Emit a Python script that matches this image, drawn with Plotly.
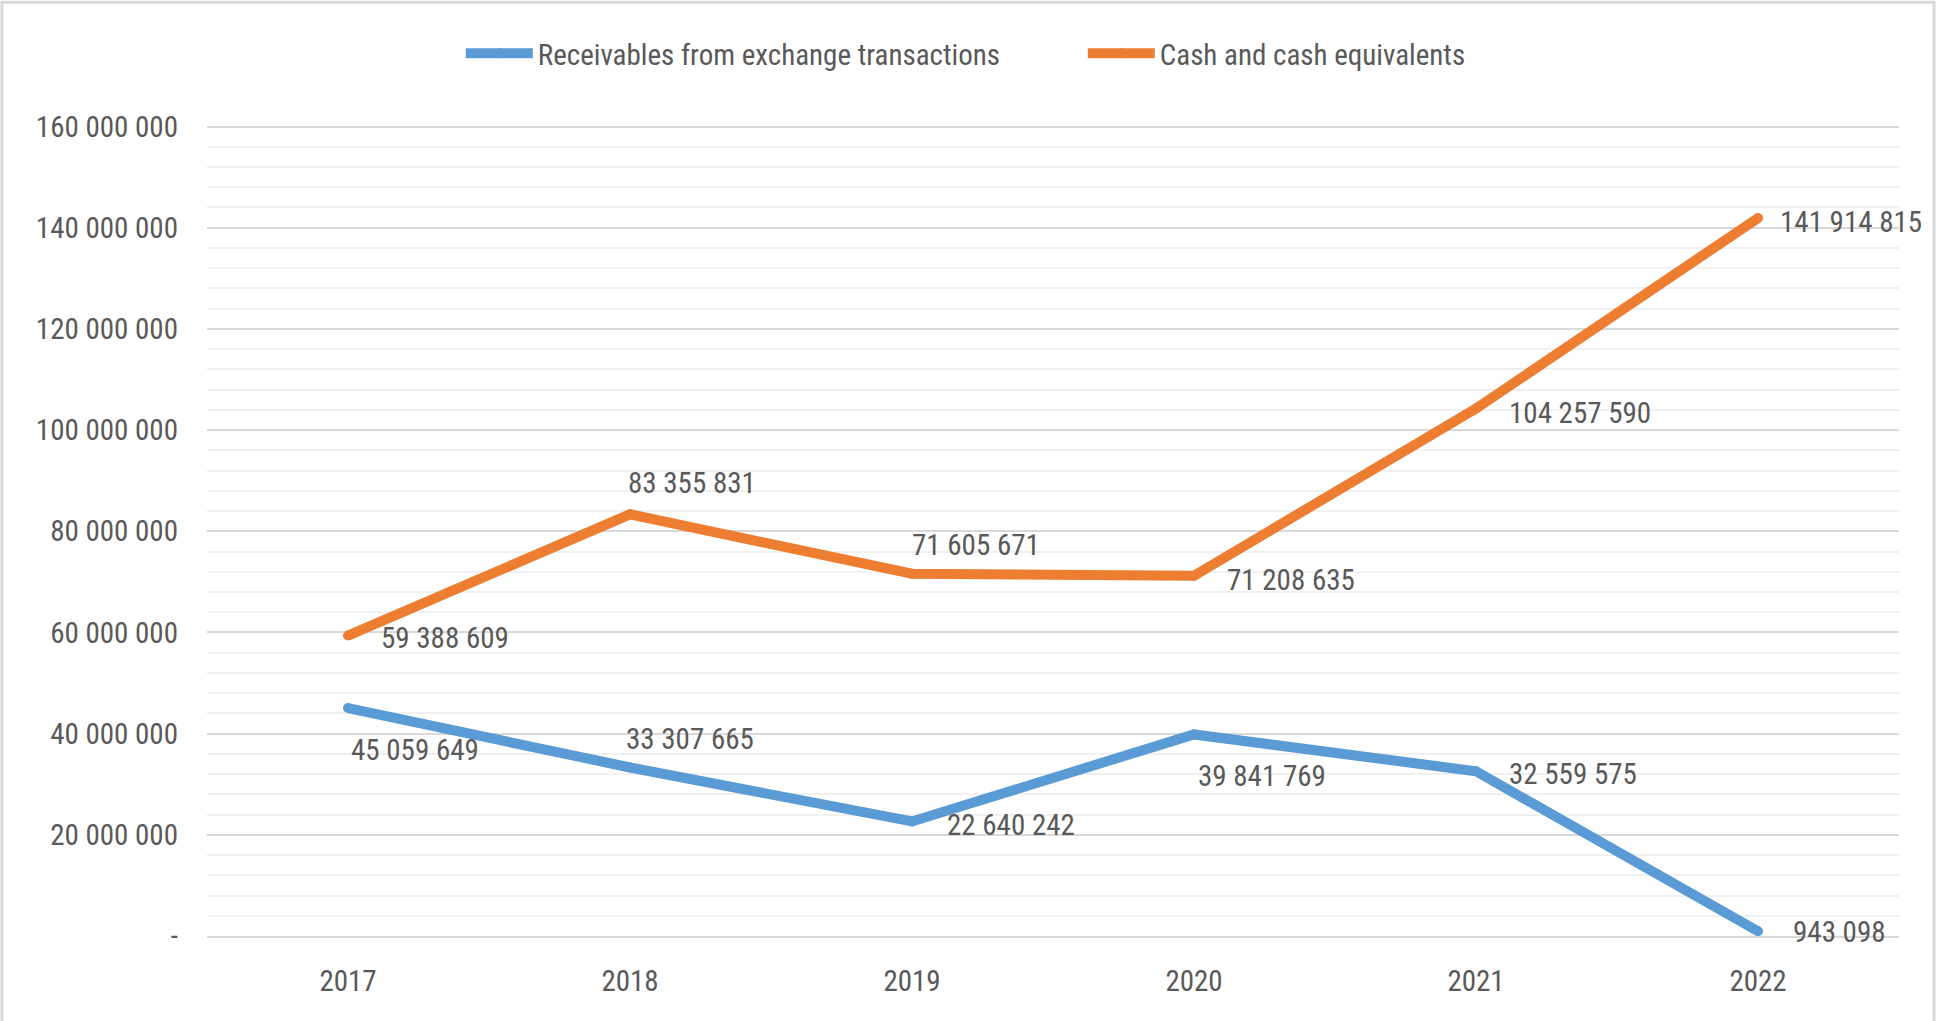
import plotly.graph_objects as go

years = ["2017", "2018", "2019", "2020", "2021", "2022"]
receivables = [45059649, 33307665, 22640242, 39841769, 32559575, 943098]
cash = [59388609, 83355831, 71605671, 71208635, 104257590, 141914815]

y_ticks = [0, 20e6, 40e6, 60e6, 80e6, 100e6, 120e6, 140e6, 160e6]
y_labels = ["-", "20 000 000", "40 000 000", "60 000 000", "80 000 000",
            "100 000 000", "120 000 000", "140 000 000", "160 000 000"]

# data label offsets in px (dx right, dy up), copied from the original layout
rec_dx = [1, -6, 33, 2, 31, 33]
rec_dy = [-42, 28, -4, -42, -3, -1]
cash_dx = [31, -4, -2, 31, 31, 20]
cash_dy = [-2, 31, 29, -4, -4, -4]

FONT = "Liberation Sans Narrow, Arial Narrow, Roboto Condensed, sans-serif"
GREY = "#595959"
FS = 29


def fmt(v):
    return f"{v:,}".replace(",", " ")


fig = go.Figure()
annotations = []
for name, vals, color, dxs, dys in [
    ("Receivables from exchange transactions", receivables, "#5B9BD5", rec_dx, rec_dy),
    ("Cash and cash equivalents", cash, "#ED7D31", cash_dx, cash_dy),
]:
    fig.add_trace(
        go.Scatter(
            x=years,
            y=vals,
            name=name,
            mode="lines+markers",
            line=dict(color=color, width=10),
            marker=dict(color=color, size=10),
            cliponaxis=False,
            hoverinfo="skip",
        )
    )
    # category axis: annotations use the category index
    for i, (v, dx, dy) in enumerate(zip(vals, dxs, dys)):
        annotations.append(dict(
            x=i, y=v, text=fmt(v), showarrow=False,
            xanchor="left", yanchor="middle", xshift=dx, yshift=dy,
            font=dict(family=FONT, size=FS, color=GREY),
        ))

fig.update_layout(
    width=1936,
    height=1021,
    paper_bgcolor="white",
    plot_bgcolor="white",
    margin=dict(l=207, r=37, t=124, b=85),
    font=dict(family=FONT, size=FS, color=GREY),
    showlegend=True,
    legend=dict(
        orientation="h",
        x=0.15,
        xanchor="left",
        y=1.087,
        yanchor="middle",
        font=dict(size=FS, color=GREY),
        itemwidth=67,
        entrywidth=540,
        tracegroupgap=0,
    ),
    annotations=annotations,
)
fig.update_xaxes(
    type="category",
    range=[-0.5, 5.5],
    showgrid=False,
    showline=True,
    linecolor="#D9D9D9",
    linewidth=2,
    ticks="",
    ticklabelstandoff=18,
)
fig.update_yaxes(
    range=[0, 160.5e6],
    tickmode="array",
    tickvals=y_ticks,
    ticktext=y_labels,
    showgrid=True,
    gridcolor="#D9D9D9",
    gridwidth=2,
    zeroline=False,
    ticklabelstandoff=28,
    minor=dict(dtick=4e6, tick0=0, showgrid=True, gridcolor="#F0F0F0", gridwidth=2),
)
fig.add_shape(type="rect", xref="paper", yref="paper",
              x0=-0.1212, x1=1.0207, y0=-0.12, y1=1.15,
              line=dict(color="#D9D9D9", width=3), layer="below")

fig.write_html("out.html", config={"displayModeBar": False},
               post_script="document.body.style.margin='0px';")
